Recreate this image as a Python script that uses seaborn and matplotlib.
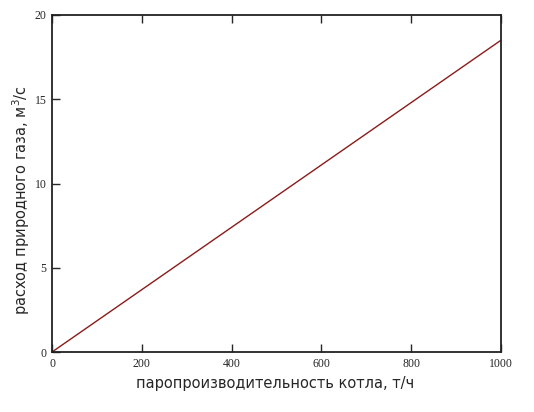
import pandas as pd
import seaborn as sns
import matplotlib.pyplot as plt

# steam output of the boiler, t/h and natural gas flow, m3/s
steam_output = [0, 200, 400, 600, 800, 1000]
gas_flow = [0, 3.7, 7.4, 11.1, 14.8, 18.5]

x_ticks = [0, 200, 400, 600, 800, 1000]
y_ticks = [0, 5, 10, 15, 20]

df = pd.DataFrame({'steam': steam_output, 'gas': gas_flow})

sns.set_style('ticks')
plt.rcParams['font.family'] = ['DejaVu Sans']

fig = plt.figure(figsize=(5.34, 4.12), dpi=100)
ax = fig.add_axes([0.0974, 0.1456, 0.8406, 0.818])

sns.lineplot(x='steam', y='gas', data=df, ax=ax, color='#8b1a1a', linewidth=1.0)

ax.set_xlim(0, 1000)
ax.set_ylim(0, 20)
ax.set_xticks(x_ticks)
ax.set_yticks(y_ticks)
ax.tick_params(direction='in', length=6, width=1, top=True, right=False,
               labelsize=8.5, pad=4)
for lbl in ax.get_xticklabels() + ax.get_yticklabels():
    lbl.set_family('Liberation Serif')

for side in ['left', 'right', 'top', 'bottom']:
    ax.spines[side].set_visible(True)
    ax.spines[side].set_linewidth(1.3)
    ax.spines[side].set_color('#222222')

ax.set_xlabel('паропроизводительность котла, т/ч', fontsize=10.5)
ax.set_ylabel('расход природного газа, м$^3$/с', fontsize=10.5)
ax.xaxis.set_label_coords(0.497, -0.072)
ax.yaxis.set_label_coords(-0.045, 0.45)

plt.savefig('out.png', dpi=100)
plt.close()
